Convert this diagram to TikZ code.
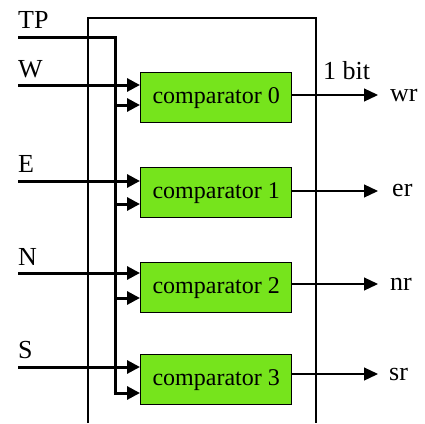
\documentclass[tikz,border=0pt]{standalone}
\usepackage{fontspec}
\setmainfont{Liberation Serif}
\usetikzlibrary{arrows.meta}
\definecolor{cmpgreen}{RGB}{118,228,28}
\tikzset{
  cmpbox/.style={draw=black, line width=1.4pt, fill=cmpgreen, minimum width=151pt,
    minimum height=50pt, inner sep=0pt, anchor=north west,
    font=\rmfamily\fontsize{24}{28}\selectfont},
  inwire/.style={line width=3pt},
  inarrow/.style={line width=3pt, -{Triangle[length=13pt,width=13pt]}},
  outarrow/.style={line width=1.2pt, -{Triangle[length=14pt,width=13pt]}},
  lbl/.style={font=\rmfamily\fontsize{26}{30}\selectfont, inner sep=0pt, anchor=base west},
}
\begin{document}
\begin{tikzpicture}[x=1pt, y=-1pt]
\useasboundingbox (0,0) rectangle (425,423);

% enclosing block, open at the bottom
\draw[line width=1.4pt] (88,423) -- (88,18) -- (316,18) -- (316,423);

% comparators
\node[cmpbox] (c0) at (140,72)  {comparator 0};
\node[cmpbox] (c1) at (140,167) {comparator 1};
\node[cmpbox] (c2) at (140,262) {comparator 2};
\node[cmpbox] (c3) at (140,354) {comparator 3};

% input labels
\node[lbl] (tpl) at (18,28)  {TP};
\node[lbl] (wl)  at (18,77)  {W};
\node[lbl] (el)  at (18,172) {E};
\node[lbl] (nl)  at (18,265) {N};
\node[lbl] (sl)  at (18,358) {S};

% input wire start points
\coordinate (tpin) at (18,37);
\coordinate (win)  at (18,85);
\coordinate (ein)  at (18,181);
\coordinate (nin)  at (18,273);
\coordinate (sin)  at (18,367);

% TP bus
\coordinate (bustop) at (115,37);
\coordinate (b0) at (115,105);
\coordinate (b1) at (115,204);
\coordinate (b2) at (115,298);
\coordinate (b3) at (115,393);
\draw[inwire] (tpin) -- (bustop) -- (b3);

% direction inputs
\draw[inarrow] (win) -- (win -| c0.west);
\draw[inarrow] (ein) -- (ein -| c1.west);
\draw[inarrow] (nin) -- (nin -| c2.west);
\draw[inarrow] (sin) -- (sin -| c3.west);

% TP taps into each comparator
\draw[inarrow] (b0) -- (b0 -| c0.west);
\draw[inarrow] (b1) -- (b1 -| c1.west);
\draw[inarrow] (b2) -- (b2 -| c2.west);
\draw[inarrow] ([xshift=-1.5pt]b3) -- (b3 -| c3.west);

% outputs
\coordinate (o0) at (378,95);
\coordinate (o1) at (378,191);
\coordinate (o2) at (378,284);
\coordinate (o3) at (378,374);
\draw[outarrow] (o0 -| c0.east) -- (o0);
\draw[outarrow] (o1 -| c1.east) -- (o1);
\draw[outarrow] (o2 -| c2.east) -- (o2);
\draw[outarrow] (o3 -| c3.east) -- (o3);

\node[lbl] (bit) at (323,79)  {1 bit};
\node[lbl] (wr)  at (390,101) {wr};
\node[lbl] (er)  at (392,196) {er};
\node[lbl] (nr)  at (390,290) {nr};
\node[lbl] (sr)  at (389,380) {sr};
\end{tikzpicture}
\end{document}
